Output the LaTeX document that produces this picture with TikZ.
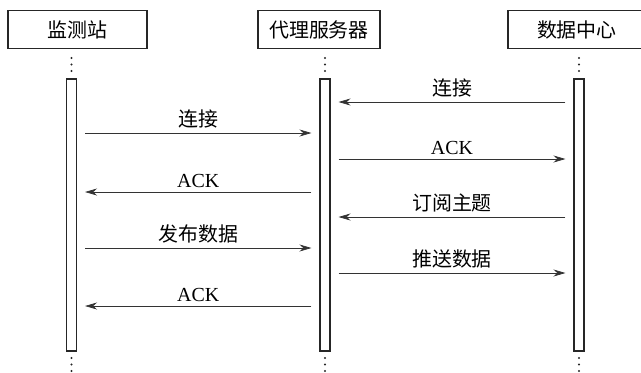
\documentclass[tikz,border=0pt]{standalone}
\usepackage{fontspec}
\setmainfont{Liberation Serif}
\newfontfamily\cjk{Noto Sans CJK SC}
\usetikzlibrary{arrows.meta}
\begin{document}
\begin{tikzpicture}[x=1bp,y=-1bp,
  head/.style={draw=black!85, line width=1.6bp, minimum height=38bp, inner sep=0pt,
    font=\cjk\fontsize{20}{20}\selectfont},
  bar/.style={draw=black!85, line width=1.1bp, minimum width=10bp, minimum height=272bp, inner sep=0pt},
  msg/.style={line width=0.7bp, draw=black!80, -{Stealth[length=12bp,width=7bp]}, shorten >=8bp, shorten <=8bp},
  lbl/.style={font=\fontsize{20}{20}\selectfont, inner sep=0pt, anchor=base},
  clbl/.style={lbl, font=\cjk\fontsize{20}{20}\selectfont},
  dot/.style={fill=black!85, circle, inner sep=0pt, minimum size=2.4bp}
]
\useasboundingbox (0,0) rectangle (641,372);
% heads
\node[head, minimum width=139bp] (h1) at (77.5,29.5) {监测站};
\node[head, minimum width=122bp] (h2) at (319,29.5) {代理服务器};
\node[head, minimum width=150bp, text width=136bp, align=left] (h3) at (583,29.5) {\hspace*{22bp}数据中心};
% bars
\node[bar] (b1) at (71.5,215) {};
\node[bar] (b2) at (325,215) {};
\node[bar] (b3) at (579,215) {};
% dots
\foreach \x/\n in {71.5/1,325/2,579/3}{
  \foreach \y in {58,64.5,71}{ \node[dot] at (\x,\y) {}; }
  \foreach \y in {358,364.5,371}{ \node[dot] at (\x,\y) {}; }
}
% messages
\draw[msg] (b3.west |- 0,102) -- node[clbl, above=5bp] {连接} (b2.east |- 0,102);
\draw[msg] (b1.east |- 0,133) -- node[clbl, above=5bp] {连接} (b2.west |- 0,133);
\draw[msg] (b2.east |- 0,159) -- node[lbl, above=4bp] {ACK} (b3.west |- 0,159);
\draw[msg] (b2.west |- 0,192) -- node[lbl, above=4bp] {ACK} (b1.east |- 0,192);
\draw[msg] (b3.west |- 0,217) -- node[clbl, above=5bp] {订阅主题} (b2.east |- 0,217);
\draw[msg] (b1.east |- 0,248) -- node[clbl, above=5bp] {发布数据} (b2.west |- 0,248);
\draw[msg] (b2.east |- 0,273) -- node[clbl, above=5bp] {推送数据} (b3.west |- 0,273);
\draw[msg] (b2.west |- 0,306) -- node[lbl, above=4bp] {ACK} (b1.east |- 0,306);
\end{tikzpicture}
\end{document}
